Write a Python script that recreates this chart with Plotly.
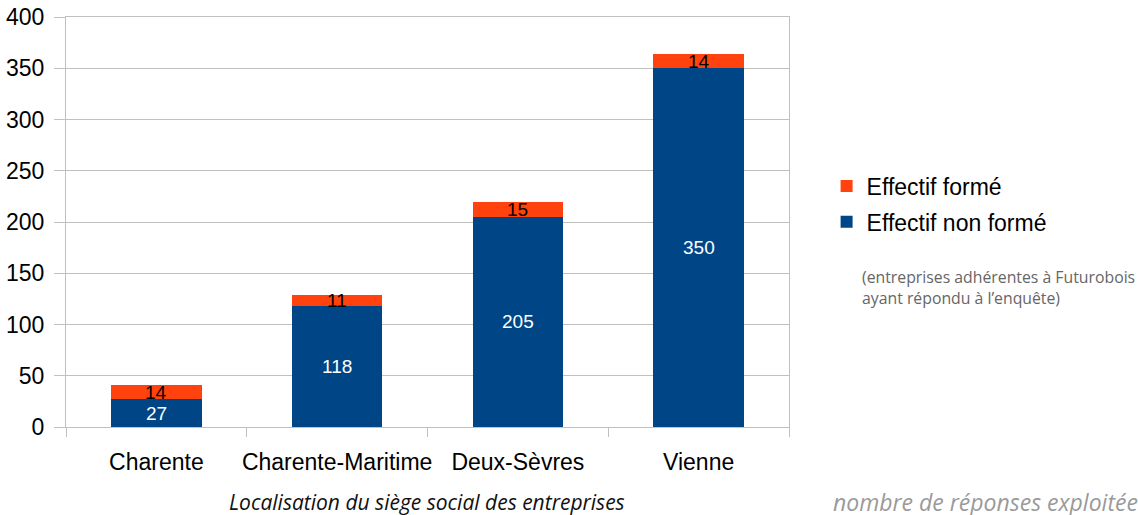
import plotly.graph_objects as go

departements = ["Charente", "Charente-Maritime", "Deux-Sèvres", "Vienne"]
non_forme = [27, 118, 205, 350]
forme = [14, 11, 15, 14]
y_ticks = [0, 50, 100, 150, 200, 250, 300, 350, 400]

BLUE = "#004586"
ORANGE = "#ff420e"
GRID = "#c0c0c0"
AX_FONT = "Liberation Sans, Arial, sans-serif"
NOTE_FONT = "Open Sans, sans-serif"

fig = go.Figure()
fig.add_trace(go.Bar(x=departements, y=non_forme, name="Effectif non formé",
                     legendgroup="b", legendrank=2,
                     marker=dict(color=BLUE, line=dict(width=0))))
fig.add_trace(go.Bar(x=departements, y=forme, name="Effectif formé",
                     legendgroup="a", legendrank=1,
                     marker=dict(color=ORANGE, line=dict(width=0))))

# value labels centred in each segment
for d, a, b in zip(departements, non_forme, forme):
    fig.add_annotation(x=d, y=a / 2, text=str(a), showarrow=False,
                       font=dict(family=AX_FONT, size=19, color="white"))
    fig.add_annotation(x=d, y=a + b / 2, text=str(b), showarrow=False,
                       font=dict(family=AX_FONT, size=19, color="black"))

fig.add_annotation(xref="paper", yref="paper", x=0.499, y=-0.183,
                   text="<i>Localisation du siège social des entreprises</i>",
                   showarrow=False, xanchor="center", yanchor="middle",
                   font=dict(family=NOTE_FONT, size=21, color="#111111"))
fig.add_annotation(xref="paper", yref="paper", x=1.058, y=-0.183,
                   text="<i>nombre de réponses exploitée</i>",
                   showarrow=False, xanchor="left", yanchor="middle",
                   font=dict(family=NOTE_FONT, size=23, color="#9a9a9a"))
fig.add_annotation(xref="paper", yref="paper", x=1.098, y=0.340,
                   text="(entreprises adhérentes à Futurobois<br>ayant répondu à l’enquête)",
                   showarrow=False, xanchor="left", yanchor="middle", align="left",
                   font=dict(family=NOTE_FONT, size=15.8, color="#666666"))

fig.update_layout(
    width=1138, height=515,
    margin=dict(l=66, r=349, t=17, b=88, autoexpand=False),
    paper_bgcolor="white", plot_bgcolor="white",
    barmode="stack", bargap=0.5,
    showlegend=True,
    legend=dict(x=1.052, y=0.544, xanchor="left", yanchor="middle",
                traceorder="grouped", tracegroupgap=3,
                font=dict(family=AX_FONT, size=23, color="black"),
                itemsizing="constant", bgcolor="rgba(0,0,0,0)"),
    font=dict(family=AX_FONT, size=23, color="black"),
)
fig.update_xaxes(type="category", tickson="boundaries", ticks="outside", ticklen=9,
                 tickcolor=GRID, showline=True, linecolor=GRID, linewidth=1,
                 showgrid=False, mirror=True, automargin=False, ticklabelstandoff=14,
                 tickangle=0, tickfont=dict(family=AX_FONT, size=23, color="black"))
fig.update_yaxes(range=[0, 400], tickvals=y_ticks, ticks="outside", ticklen=11,
                 tickcolor=GRID, showline=True, linecolor=GRID, linewidth=1,
                 mirror=True, showgrid=True, gridcolor=GRID, gridwidth=1,
                 zeroline=False, automargin=False, ticklabelstandoff=5,
                 tickfont=dict(family=AX_FONT, size=23, color="black"))

fig.write_html("out.html")
